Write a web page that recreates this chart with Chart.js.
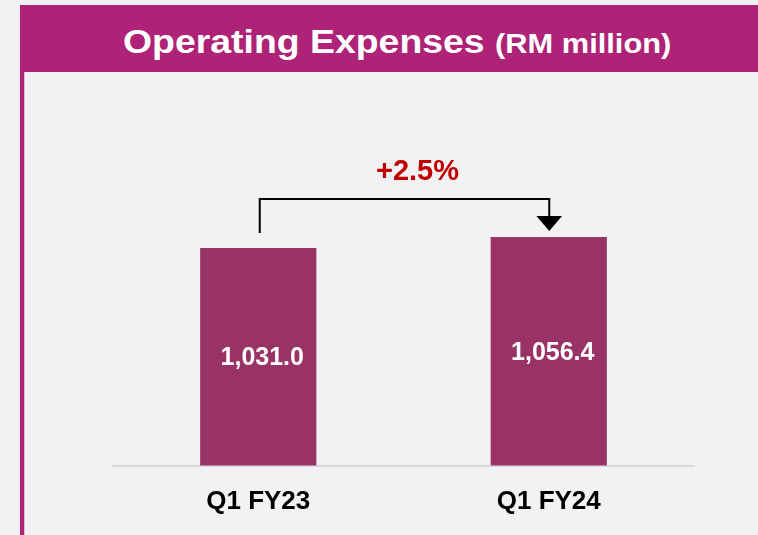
<!DOCTYPE html>
<html>
<head>
<meta charset="utf-8">
<script src="https://cdn.jsdelivr.net/npm/chart.js@4/dist/chart.umd.min.js"></script>
<style>
  html, body { margin: 0; padding: 0; }
  body { width: 758px; height: 535px; overflow: hidden; background: #f2f2f4; position: relative; font-family: "Liberation Sans", Arial, sans-serif; }
  #header { position: absolute; left: 20px; top: 5px; width: 738px; height: 67px; background: #ae2277; }
  #title { position: absolute; left: 103px; top: 18.7px; line-height: 34px; white-space: nowrap; color: #fff; font-weight: bold; font-size: 34px; transform: scaleX(1.1); transform-origin: 0 50%; }
  #title small { font-size: 28px; }
  #lborder { position: absolute; left: 20px; top: 72px; width: 4px; height: 463px; background: #ae2277; }
  #lborder2 { position: absolute; left: 24px; top: 72px; width: 1px; height: 463px; background: #e6b8d2; }
  #wrap { position: absolute; left: 0; top: 0; width: 758px; height: 535px; }
</style>
</head>
<body>
<div id="header"><div id="title">Operating Expenses <small>(RM million)</small></div></div>
<div id="lborder"></div><div id="lborder2"></div>
<div id="wrap"><canvas id="c" width="758" height="535"></canvas></div>
<script>
const categories = ["Q1 FY23", "Q1 FY24"];
const opexValues = [1031.0, 1056.4];
const valueLabels = ["1,031.0", "1,056.4"];
const changeLabel = "+2.5%";

const FONT = '"Liberation Sans", Arial, sans-serif';

const labelPlugin = {
  id: 'labels',
  afterDatasetsDraw(chart) {
    const ctx = chart.ctx;
    const meta = chart.getDatasetMeta(0);
    const bottom = chart.chartArea.bottom;
    ctx.save();
    ctx.fillStyle = '#ffffff';
    ctx.font = 'bold 25px ' + FONT;
    ctx.textAlign = 'center';
    ctx.textBaseline = 'middle';
    meta.data.forEach((bar, i) => {
      const base = Math.min(bar.base, bottom);
      ctx.fillText(valueLabels[i], bar.x + 4, (bar.y + base) / 2 + 1.5);
    });

    // bracket arrow
    const b1 = meta.data[0], b2 = meta.data[1];
    const lx = b1.x + 1.5, rx = b2.x + 0.5;
    const by = b2.y - 38;
    ctx.strokeStyle = '#000';
    ctx.lineWidth = 2;
    ctx.beginPath();
    ctx.moveTo(lx, b1.y - 15);
    ctx.lineTo(lx, by);
    ctx.lineTo(rx, by);
    ctx.lineTo(rx, b2.y - 21);
    ctx.stroke();
    ctx.fillStyle = '#000';
    ctx.beginPath();
    ctx.moveTo(rx - 12.8, b2.y - 21);
    ctx.lineTo(rx + 12.8, b2.y - 21);
    ctx.lineTo(rx, b2.y - 6);
    ctx.closePath();
    ctx.fill();

    ctx.fillStyle = '#c00000';
    ctx.font = 'bold 29px ' + FONT;
    ctx.fillText(changeLabel, (lx + rx) / 2 + 13, by - 27);
    ctx.restore();
  }
};

new Chart(document.getElementById('c'), {
  type: 'bar',
  data: {
    labels: categories,
    datasets: [{
      data: opexValues,
      backgroundColor: '#993366',
      borderWidth: 0,
      barPercentage: 0.4,
      categoryPercentage: 1.0
    }]
  },
  options: {
    responsive: false,
    animation: false,
    events: [],
    layout: { padding: { left: 113, right: 64, top: 150, bottom: 0 } },
    plugins: { legend: { display: false }, tooltip: { enabled: false }, title: { display: false } },
    scales: {
      x: {
        offset: true,
        grid: { display: false, drawTicks: false },
        border: { display: true, color: '#d9d9d9', width: 2 },
        ticks: { color: '#000', font: { family: FONT, size: 26, weight: 'bold' }, padding: 21, maxRotation: 0 },
        afterFit(scale) { scale.height = 69.5; }
      },
      y: {
        display: false,
        min: 529,
        max: 1257.5
      }
    }
  },
  plugins: [labelPlugin]
});
</script>
</body>
</html>
